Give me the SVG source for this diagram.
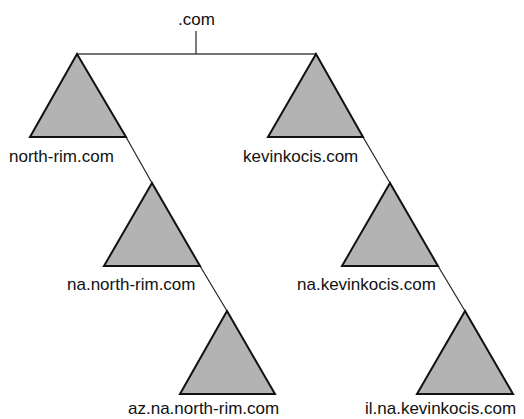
<svg xmlns="http://www.w3.org/2000/svg" width="524" height="419" viewBox="0 0 524 419">
<style>
.tri{fill:#b3b3b3;stroke:#111;stroke-width:2;stroke-linejoin:miter}
.lbl{font-family:"Liberation Sans",Arial,sans-serif;font-size:17px;fill:#111}
.con{stroke:#222;stroke-width:1.2;fill:none}
</style>
<rect width="524" height="419" fill="#fff"/>
<g id="connectors">
<line class="con" x1="196" y1="31" x2="196" y2="54" stroke-width="1.5"/>
<line class="con" x1="77" y1="54" x2="316" y2="54" style="stroke-width:1.6;stroke:#444"/>
<line class="con" x1="126" y1="137" x2="152" y2="183"/>
<line class="con" x1="200" y1="266" x2="227" y2="311"/>
<line class="con" x1="363" y1="137" x2="390" y2="183"/>
<line class="con" x1="438" y1="266" x2="465" y2="311"/>
</g>
<g id="root"><text class="lbl" x="178" y="25">.com</text></g>
<g id="north-rim"><polygon class="tri" points="77,54 30,137 126,137"/><text class="lbl" x="9" y="162">north-rim.com</text></g>
<g id="kevinkocis"><polygon class="tri" points="316,54 268,137 363,137"/><text class="lbl" x="243" y="162">kevinkocis.com</text></g>
<g id="na-north-rim"><polygon class="tri" points="152,183 104,266 200,266"/><text class="lbl" x="67" y="290">na.north-rim.com</text></g>
<g id="na-kevinkocis"><polygon class="tri" points="390,183 342,266 438,266"/><text class="lbl" x="297" y="290">na.kevinkocis.com</text></g>
<g id="az-na-north-rim"><polygon class="tri" points="227,311 180,394 275,394"/><text class="lbl" x="128" y="414">az.na.north-rim.com</text></g>
<g id="il-na-kevinkocis"><polygon class="tri" points="465,311 417,394 513,394"/><text class="lbl" x="365" y="414">il.na.kevinkocis.com</text></g>
</svg>
